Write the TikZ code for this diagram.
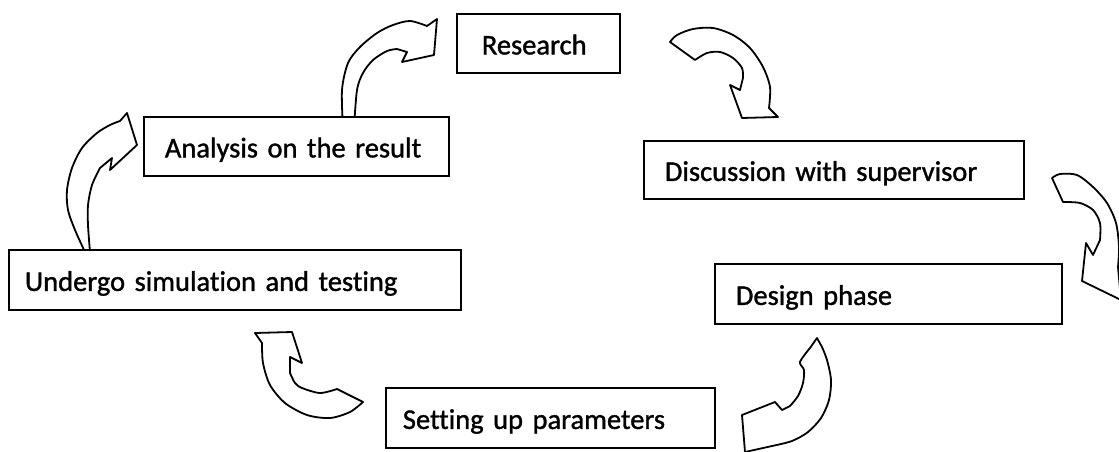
\documentclass[tikz,border=0pt]{standalone}
\usepackage{fontspec}
\setmainfont{Carlito}
\newfontfamily\boxfont{Carlito}[FakeBold=1.2, Ligatures=CommonOff, WordSpace=0.8]
\begin{document}
\begin{tikzpicture}[x=1pt,y=-1pt,
  box/.style={draw=black, line width=1.8pt, fill=white, anchor=north west, align=left,
    font=\boxfont\fontsize{28.5pt}{34pt}\selectfont, text height=22pt, text depth=0pt, inner ysep=0pt},
  arr/.style={draw=black, line width=1.8pt, fill=white, line join=round}]
\useasboundingbox (0,0) rectangle (1119,452);
\clip (0,0) rectangle (1119,452);

% arrow: Analysis -> Research
\draw[arr] plot[smooth] coordinates {(343,128) (342,90) (348,63) (360,47) (377,33) (393,25) (410,21) (427,26)}
  -- (437,19) -- (434,55) -- (402,62) -- (407,52)
  -- plot[smooth] coordinates {(397,49) (387,51) (373,60) (363,73) (357,90) (354,128)} -- cycle;

% arrow: Research -> Discussion
\draw[arr] plot[smooth] coordinates {(670,42) (677,35) (693,29) (713,28) (733,35) (750,48) (763,67) (770,87) (769,108)}
  -- (778,117) -- (742,118) -- (730,85) -- (740,90)
  -- plot[smooth] coordinates {(743,78) (742,68) (733,58) (720,52) (707,53) (695,60)} -- cycle;

% arrow: Discussion -> Design
\draw[arr] plot[smooth] coordinates {(1052,178) (1060,174) (1077,175) (1093,187) (1107,203) (1116,223) (1119,247) (1118,267)}
  -- (1121,300) -- (1082,281) -- (1086,243) -- (1093,255)
  -- plot[smooth] coordinates {(1100,240) (1100,223) (1093,210) (1080,203) (1063,202)} -- cycle;

% arrow: Design -> Setting
\draw[arr] (817,338) -- plot[smooth] coordinates {(822,347) (827,360) (831,380) (829,400) (821,418) (808,432) (792,441) (772,446)}
  -- (745,452) -- (742,415) -- (775,402) -- (782,410)
  -- plot[smooth] coordinates {(790,406) (798,396) (803,383) (804,370) (800,362) (810,348)} -- cycle;

% arrow: Setting -> Undergo
\draw[arr] plot[smooth] coordinates {(363,402) (350,412) (330,418) (307,415) (285,403) (270,385) (263,363) (262,343)}
  -- (255,333) -- (292,332) -- (302,363) -- (290,357)
  -- plot[smooth] coordinates {(290,373) (295,383) (302,388) (320,393) (337,389)} -- cycle;

% arrow: Undergo -> Analysis
\draw[arr] plot[smooth] coordinates {(85,252) (75,230) (68,210) (67,190) (72,168) (82,148) (97,133) (110,125) (120,121)}
  -- (127,113) -- (137,145) -- (110,170) -- (112,158)
  -- plot[smooth] coordinates {(100,168) (92,185) (88,205) (88,225) (90,252)} -- cycle;

% boxes
\node[box, minimum width=163pt, minimum height=59pt, text width=113pt, inner xsep=25pt] (research) at (456,13) {Research};
\node[box, minimum width=380pt, minimum height=58pt, text width=338pt, inner xsep=21pt] (discussion) at (643,140) {Discussion with supervisor};
\node[box, minimum width=347pt, minimum height=60pt, text width=305pt, inner xsep=21pt] (design) at (714,263) {Design phase};
\node[box, minimum width=329pt, minimum height=60pt, text width=295pt, inner xsep=17pt] (setting) at (385,387) {Setting up parameters};
\node[box, minimum width=452pt, minimum height=60pt, text width=420pt, inner xsep=16pt] (undergo) at (8,249) {Undergo simulation and testing};
\node[box, minimum width=305pt, minimum height=59pt, text width=263pt, inner xsep=21pt] (analysis) at (143,116) {Analysis on the result};
\end{tikzpicture}
\end{document}
